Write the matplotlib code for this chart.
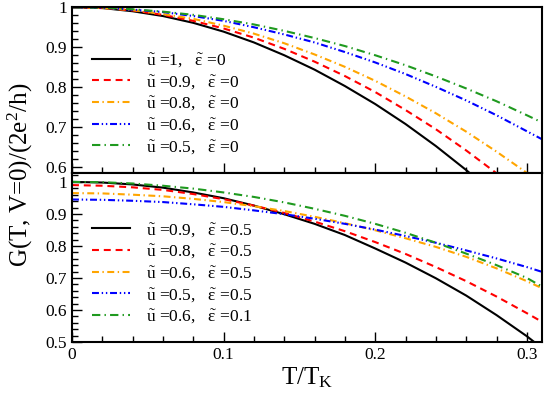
import matplotlib
matplotlib.use("Agg")
import matplotlib.pyplot as plt
from matplotlib.ticker import MultipleLocator, FuncFormatter

plt.rcParams["font.family"] = ["Liberation Serif", "DejaVu Serif"]
plt.rcParams["mathtext.fontset"] = "custom"
plt.rcParams["mathtext.rm"] = "Liberation Serif"
plt.rcParams["mathtext.it"] = "Liberation Serif"
plt.rcParams["lines.scale_dashes"] = False

# temperature grid T/T_K
T = [0.0, 0.02, 0.04, 0.06, 0.08, 0.10, 0.12, 0.14, 0.16, 0.18,
     0.20, 0.22, 0.24, 0.26, 0.28, 0.30, 0.31]

# top panel: eps = 0
top_u1 = [1.000, 0.998, 0.990, 0.978, 0.961, 0.939, 0.912, 0.880, 0.844, 0.803,
          0.758, 0.708, 0.653, 0.593, 0.528, 0.458, 0.420]
top_u09 = [1.000, 0.998, 0.992, 0.981, 0.966, 0.947, 0.924, 0.896, 0.864, 0.828,
           0.788, 0.743, 0.695, 0.642, 0.585, 0.523, 0.491]
top_u08 = [1.000, 0.998, 0.993, 0.983, 0.971, 0.954, 0.934, 0.910, 0.882, 0.851,
           0.816, 0.777, 0.735, 0.689, 0.639, 0.586, 0.558]
top_u06 = [1.000, 0.999, 0.994, 0.988, 0.978, 0.966, 0.950, 0.932, 0.912, 0.888,
           0.862, 0.833, 0.801, 0.767, 0.730, 0.690, 0.670]
top_u05 = [1.000, 0.999, 0.995, 0.989, 0.981, 0.970, 0.957, 0.941, 0.923, 0.903,
           0.880, 0.855, 0.827, 0.797, 0.765, 0.730, 0.712]

# bottom panel: finite eps
bot_u09_e05 = [1.000, 0.998, 0.992, 0.982, 0.967, 0.949, 0.926, 0.899, 0.869, 0.834,
               0.792, 0.748, 0.699, 0.645, 0.584, 0.518, 0.481]
bot_u08_e05 = [0.990, 0.988, 0.983, 0.975, 0.962, 0.946, 0.926, 0.903, 0.876, 0.846,
               0.812, 0.775, 0.734, 0.690, 0.642, 0.590, 0.563]
bot_u06_e05 = [0.965, 0.964, 0.960, 0.955, 0.947, 0.937, 0.924, 0.909, 0.891, 0.871,
               0.849, 0.824, 0.797, 0.766, 0.730, 0.690, 0.668]
bot_u05_e05 = [0.945, 0.944, 0.941, 0.937, 0.930, 0.922, 0.911, 0.899, 0.885, 0.869,
               0.851, 0.831, 0.810, 0.786, 0.761, 0.734, 0.719]
bot_u06_e01 = [1.000, 0.999, 0.995, 0.988, 0.979, 0.967, 0.953, 0.936, 0.916, 0.894,
               0.869, 0.841, 0.810, 0.776, 0.740, 0.700, 0.673]

top_labels = [r"$\tilde{u}$ =1,   $\tilde{\varepsilon}$ =0",
              r"$\tilde{u}$ =0.9,   $\tilde{\varepsilon}$ =0",
              r"$\tilde{u}$ =0.8,   $\tilde{\varepsilon}$ =0",
              r"$\tilde{u}$ =0.6,   $\tilde{\varepsilon}$ =0",
              r"$\tilde{u}$ =0.5,   $\tilde{\varepsilon}$ =0"]
bot_labels = [r"$\tilde{u}$ =0.9,   $\tilde{\varepsilon}$ =0.5",
              r"$\tilde{u}$ =0.8,   $\tilde{\varepsilon}$ =0.5",
              r"$\tilde{u}$ =0.6,   $\tilde{\varepsilon}$ =0.5",
              r"$\tilde{u}$ =0.5,   $\tilde{\varepsilon}$ =0.5",
              r"$\tilde{u}$ =0.6,   $\tilde{\varepsilon}$ =0.1"]

colors = ["black", "#ff0000", "#ffa500", "#0000ff", "#1f9a1f"]
styles = ["-", (0, (5, 3.5)), (0, (5, 2.5, 1, 2.5)),
          (0, (5, 2, 1, 2, 1, 2)), (0, (6, 3, 1, 3))]

fig = plt.figure(figsize=(5.45, 3.94), dpi=100)
ax1 = fig.add_axes([0.1321, 0.5603, 0.8624, 0.4213])
ax2 = fig.add_axes([0.1321, 0.1320, 0.8624, 0.4283])

fmt = FuncFormatter(lambda v, p: "%g" % round(v, 3))

for ax, series, labels in [
    (ax1, [top_u1, top_u09, top_u08, top_u06, top_u05], top_labels),
    (ax2, [bot_u09_e05, bot_u08_e05, bot_u06_e05, bot_u05_e05, bot_u06_e01], bot_labels),
]:
    for ys, c, ls, lab in zip(series, colors, styles, labels):
        ax.plot(T, ys, color=c, linestyle=ls, lw=1.5, label=lab)
    ax.set_xlim(0, 0.31)
    ax.xaxis.set_major_locator(MultipleLocator(0.1))
    ax.xaxis.set_minor_locator(MultipleLocator(0.02))
    ax.yaxis.set_major_locator(MultipleLocator(0.1))
    ax.yaxis.set_minor_locator(MultipleLocator(0.02))
    ax.yaxis.set_major_formatter(fmt)
    ax.xaxis.set_major_formatter(fmt)
    ax.tick_params(which="both", direction="in", top=False, right=False,
                   labelsize=12.5, width=1)
    ax.tick_params(which="major", length=7)
    ax.tick_params(which="minor", length=4)
    for sp in ax.spines.values():
        sp.set_linewidth(1.5)

ax1.set_ylim(0.585, 1.0)
ax2.set_ylim(0.5, 1.027)
ax1.tick_params(labelbottom=False)

leg_kw = dict(frameon=False, fontsize=12.5, handlelength=2.2, handletextpad=0.9,
              labelspacing=0.22, borderpad=0, borderaxespad=0, loc="upper left")
ax1.legend(bbox_to_anchor=(0.043, 0.735), **leg_kw)
ax2.legend(bbox_to_anchor=(0.043, 0.718), **leg_kw)

ax2.set_xlabel(r"T/T$_{\rm K}$", fontsize=18, labelpad=2)
fig.text(0.038, 0.556, r"G(T, V=0)/(2e$^{2}$/h)", rotation=90, fontsize=18,
         ha="center", va="center")

fig.savefig("out.png", dpi=100)
